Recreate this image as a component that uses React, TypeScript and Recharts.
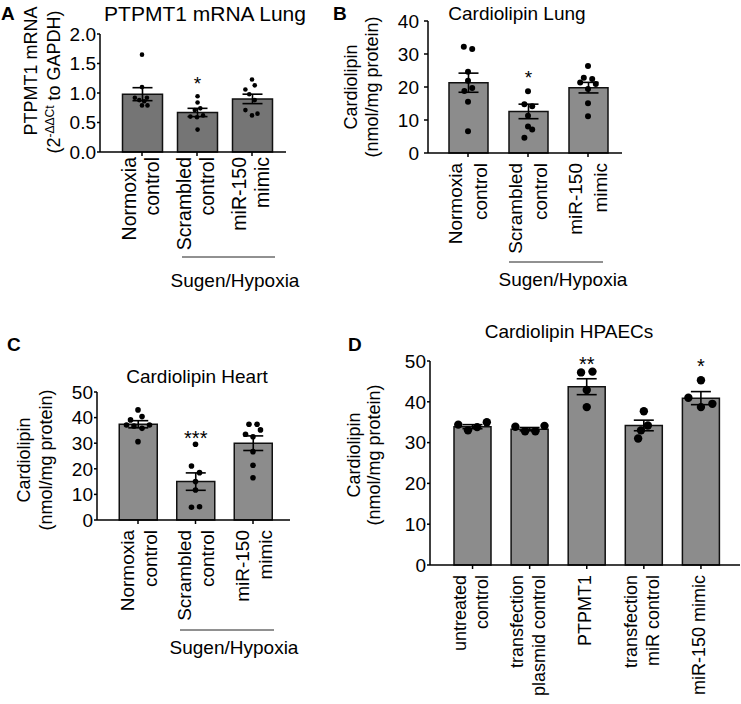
import React from 'react';
import { ComposedChart, Bar, Scatter, XAxis, YAxis, ErrorBar, LabelList } from 'recharts';

const FONT = '"Liberation Sans", Arial, Helvetica, sans-serif';

// A: PTPMT1 mRNA Lung
const mrnaGroups = ['Normoxia control', 'Scrambled control', 'miR-150 mimic'];
const mrnaMean = [0.98, 0.67, 0.9];
const mrnaSem = [0.11, 0.07, 0.08];
const mrnaSig = ['', '*', ''];
const mrnaSigAt = [0, 1.23, 0];
const mrnaDots = [
  [1.65, 1.1, 0.92, 0.92, 0.88, 0.86, 0.79, 0.79],
  [0.945, 0.84, 0.74, 0.71, 0.6, 0.59, 0.62, 0.38],
  [1.23, 1.13, 1.06, 0.98, 0.88, 0.71, 0.62, 0.65],
];
const mrnaJitter = [
  [0, 0, -0.13, 0.09, -0.05, 0.04, 0, 0.1],
  [0.01, 0.01, 0.06, -0.04, -0.12, 0, 0.11, 0.01],
  [0, 0.05, -0.12, -0.05, 0.05, -0.12, 0, 0.1],
];

// B: Cardiolipin Lung
const lungGroups = ['Normoxia control', 'Scrambled control', 'miR-150 mimic'];
const lungMean = [21.3, 12.6, 19.8];
const lungSem = [2.9, 2.2, 1.6];
const lungSig = ['', '*', ''];
const lungSigAt = [0, 24.3, 0];
const lungDots = [
  [32.2, 31.5, 24.6, 21.9, 18.8, 19.7, 15.5, 6.6],
  [18.7, 14.8, 14.2, 11.3, 8.0, 7.1, 4.6],
  [26.4, 22.8, 22.4, 21.4, 20.9, 19.4, 15.1, 11.1],
];
const lungJitter = [
  [-0.07, 0.07, 0, 0, -0.06, 0.07, 0, 0],
  [0, -0.06, 0.07, 0, 0, 0.07, -0.06],
  [0, -0.07, 0.07, -0.13, 0.13, 0, 0, 0],
];

// C: Cardiolipin Heart
const heartGroups = ['Normoxia control', 'Scrambled control', 'miR-150 mimic'];
const heartMean = [37.4, 15.0, 30.0];
const heartSem = [1.4, 3.4, 2.85];
const heartSig = ['', '***', ''];
const heartSigAt = [0, 33.9, 0];
const heartDots = [
  [43.0, 39.1, 40.4, 37.1, 36.7, 37.1, 35.8, 30.6],
  [29.6, 21.1, 18.5, 15.0, 11.7, 5.0, 5.2],
  [37.4, 37.4, 35.2, 33.5, 32.5, 26.7, 21.4, 16.5],
];
const heartJitter = [
  [0, -0.13, 0.07, -0.2, -0.07, 0.2, 0.07, 0],
  [0, -0.07, 0.07, 0, 0, -0.07, 0.07],
  [-0.07, 0.07, 0.13, -0.13, 0, 0, 0, 0],
];

// D: Cardiolipin HPAECs
const cellGroups = ['untreated control', 'transfection plasmid control', 'PTPMT1', 'transfection miR control', 'miR-150 mimic'];
const cellMean = [33.9, 33.3, 43.7, 34.2, 40.9];
const cellSem = [0.5, 0.4, 1.95, 1.3, 1.6];
const cellSig = ['', '', '**', '', '*'];
const cellSigAt = [0, 0, 50.5, 0, 49.8];
const cellDots = [
  [34.4, 33.0, 33.8, 35.0],
  [33.9, 32.8, 32.8, 34.1],
  [47.2, 47.4, 42.9, 38.7],
  [37.7, 34.2, 33.0, 31.0],
  [45.3, 41.0, 39.5, 38.7],
];
const cellJitter = [
  [-0.25, -0.08, 0.08, 0.25],
  [-0.25, -0.08, 0.1, 0.26],
  [-0.1, 0.1, 0, 0],
  [0, 0.07, -0.05, -0.1],
  [0, -0.22, 0.2, 0],
];

const threeLines: Record<string, string[]> = {
  'Normoxia control': ['Normoxia', 'control'],
  'Scrambled control': ['Scrambled', 'control'],
  'miR-150 mimic': ['miR-150', 'mimic'],
};
const cellLines: Record<string, string[]> = {
  'untreated control': ['untreated', 'control'],
  'transfection plasmid control': ['transfection', 'plasmid control'],
  PTPMT1: ['PTPMT1'],
  'transfection miR control': ['transfection', 'miR control'],
  'miR-150 mimic': ['miR-150 mimic'],
};

const buildRows = (groups: string[], mean: number[], sem: number[], sig: string[], sigAt: number[]) =>
  groups.map((g, i) => ({ group: g, mean: mean[i], sem: sem[i], sig: sig[i], sigAt: sigAt[i] }));

const buildDots = (dots: number[][], jitter: number[][]) =>
  dots.flatMap((vals, i) => vals.map((v, j) => ({ x: i + jitter[i][j], y: v })));

const CatTick = (props: any) => {
  const { x, y, payload, lines, shift, gap, size } = props;
  const ls: string[] = lines[payload.value] || [String(payload.value)];
  const n = ls.length;
  return (
    <g transform={`translate(${x},${y}) rotate(-90)`}>
      {ls.map((t, i) => (
        <text
          key={i}
          x={0}
          y={shift + (i - (n - 1) / 2) * gap}
          textAnchor="end"
          dominantBaseline="central"
          fontSize={size}
          fontFamily={FONT}
          fill="#000"
        >
          {t}
        </text>
      ))}
    </g>
  );
};

// star sits at sigAt (data units); scale taken from the drawn bar itself
const makeStar = (rows: any[], size: number) => (p: any) => {
  const row = rows[p.index];
  if (!row || !row.sig) return null;
  const vb = p.viewBox && p.viewBox.width !== undefined ? p.viewBox : p;
  const { x, y, width, height } = vb;
  const base = y + height;
  const cy = base - row.sigAt * (height / row.mean);
  return (
    <text x={x + width / 2} y={cy + size * 0.58} textAnchor="middle" fontSize={size} fontFamily={FONT} fill="#000">
      {row.sig}
    </text>
  );
};

interface PanelProps {
  left: number;
  top: number;
  width: number;
  height: number;
  marginTop: number;
  marginRight: number;
  yWidth: number;
  xHeight: number;
  pad: { left: number; right: number };
  yDomain: [number, number];
  yTicks: number[];
  yFmt: (v: number) => string;
  yTickSize: number;
  yTickMargin: number;
  tickFont: number;
  rows: any[];
  dots: { x: number; y: number }[];
  lines: Record<string, string[]>;
  catShift: number;
  catGap: number;
  catFont: number;
  catMargin: number;
  barSize: number;
  fill: string;
  dotR: number;
  starFont: number;
}

const Panel = (p: PanelProps) => {
  const axisStyle = { stroke: '#000', strokeWidth: 1.5 };
  return (
    <div style={{ position: 'absolute', left: p.left, top: p.top }}>
      <ComposedChart
        width={p.width}
        height={p.height}
        data={p.rows}
        margin={{ top: p.marginTop, right: p.marginRight, bottom: 0, left: 0 }}
      >
        <XAxis
          xAxisId="cat"
          dataKey="group"
          type="category"
          padding={p.pad}
          height={p.xHeight}
          interval={0}
          axisLine={axisStyle}
          tickLine={axisStyle}
          tickSize={4}
          tickMargin={p.catMargin}
          tick={(t: any) => (
            <CatTick {...t} lines={p.lines} shift={p.catShift} gap={p.catGap} size={p.catFont} />
          )}
        />
        <XAxis
          xAxisId="num"
          dataKey="x"
          type="number"
          domain={[-0.5, p.rows.length - 0.5]}
          padding={p.pad}
          hide
          height={0}
        />
        <YAxis
          type="number"
          domain={p.yDomain}
          ticks={p.yTicks}
          interval={0}
          width={p.yWidth}
          tickFormatter={p.yFmt}
          axisLine={axisStyle}
          tickLine={axisStyle}
          tickSize={p.yTickSize}
          tickMargin={p.yTickMargin}
          tick={{ fill: '#000', fontSize: p.tickFont, fontFamily: FONT }}
        />
        <Bar
          xAxisId="cat"
          dataKey="mean"
          fill={p.fill}
          stroke="#111"
          strokeWidth={1.5}
          barSize={p.barSize}
          isAnimationActive={false}
        >
          <ErrorBar dataKey="sem" width={10} stroke="#000" strokeWidth={1.6} isAnimationActive={false} />
          <LabelList dataKey="sig" content={makeStar(p.rows, p.starFont)} />
        </Bar>
        <Scatter
          xAxisId="num"
          data={p.dots}
          dataKey="y"
          isAnimationActive={false}
          shape={(s: any) => <circle cx={s.cx} cy={s.cy} r={p.dotR} fill="#000" />}
        />
      </ComposedChart>
    </div>
  );
};

const RotLabel = ({ cx, cy, size, children }: any) => (
  <text
    transform={`translate(${cx},${cy}) rotate(-90)`}
    y={size * 0.3}
    textAnchor="middle"
    fontSize={size}
    fontFamily={FONT}
    fill="#000"
  >
    {children}
  </text>
);

export default function App() {
  const fmt1 = (v: number) => v.toFixed(1);
  const fmt0 = (v: number) => String(v);
  return (
    <div style={{ position: 'absolute', left: 0, top: 0, width: 741, height: 704, background: '#fff', fontFamily: FONT }}>
      <Panel
        left={0}
        top={0}
        width={300}
        height={300}
        marginTop={34}
        marginRight={14}
        yWidth={100}
        xHeight={148}
        pad={{ left: 14.5, right: 6.5 }}
        yDomain={[0, 2]}
        yTicks={[0, 0.5, 1, 1.5, 2]}
        yFmt={fmt1}
        yTickSize={3}
        yTickMargin={1}
        tickFont={19}
        rows={buildRows(mrnaGroups, mrnaMean, mrnaSem, mrnaSig, mrnaSigAt)}
        dots={buildDots(mrnaDots, mrnaJitter)}
        lines={threeLines}
        catShift={-1.5}
        catGap={22.5}
        catFont={19.5}
        catMargin={1}
        barSize={40}
        fill="#757575"
        dotR={2.3}
        starFont={19}
      />
      <Panel
        left={330}
        top={0}
        width={300}
        height={300}
        marginTop={21}
        marginRight={8}
        yWidth={98}
        xHeight={147}
        pad={{ left: 10, right: 4 }}
        yDomain={[0, 40]}
        yTicks={[0, 10, 20, 30, 40]}
        yFmt={fmt0}
        yTickSize={4}
        yTickMargin={5}
        tickFont={19}
        rows={buildRows(lungGroups, lungMean, lungSem, lungSig, lungSigAt)}
        dots={buildDots(lungDots, lungJitter)}
        lines={threeLines}
        catShift={-0.5}
        catGap={25}
        catFont={19}
        catMargin={6}
        barSize={39}
        fill="#8c8c8c"
        dotR={3}
        starFont={19}
      />
      <Panel
        left={0}
        top={330}
        width={300}
        height={300}
        marginTop={62}
        marginRight={10}
        yWidth={97}
        xHeight={110}
        pad={{ left: 12.25, right: 8.25 }}
        yDomain={[0, 50]}
        yTicks={[0, 10, 20, 30, 40, 50]}
        yFmt={fmt0}
        yTickSize={3}
        yTickMargin={1}
        tickFont={19}
        rows={buildRows(heartGroups, heartMean, heartSem, heartSig, heartSigAt)}
        dots={buildDots(heartDots, heartJitter)}
        lines={threeLines}
        catShift={0.5}
        catGap={23}
        catFont={19}
        catMargin={6}
        barSize={38}
        fill="#8c8c8c"
        dotR={2.8}
        starFont={20}
      />
      <Panel
        left={330}
        top={330}
        width={411}
        height={374}
        marginTop={31}
        marginRight={1}
        yWidth={100}
        xHeight={139}
        pad={{ left: 14, right: 10.5 }}
        yDomain={[0, 50]}
        yTicks={[0, 10, 20, 30, 40, 50]}
        yFmt={fmt0}
        yTickSize={3}
        yTickMargin={1}
        tickFont={19}
        rows={buildRows(cellGroups, cellMean, cellSem, cellSig, cellSigAt)}
        dots={buildDots(cellDots, cellJitter)}
        lines={cellLines}
        catShift={-2}
        catGap={22}
        catFont={18}
        catMargin={6}
        barSize={37}
        fill="#8c8c8c"
        dotR={4.2}
        starFont={20}
      />
      <svg
        width={741}
        height={704}
        style={{ position: 'absolute', left: 0, top: 0, pointerEvents: 'none' }}
        fontFamily={FONT}
      >
        <g fontWeight="bold" fontSize={19} fill="#000">
          <text x={1} y={20}>A</text>
          <text x={333} y={20}>B</text>
          <text x={7} y={351}>C</text>
          <text x={348} y={351}>D</text>
        </g>
        <g fill="#000" textAnchor="middle">
          <text x={205} y={21} fontSize={21}>PTPMT1 mRNA Lung</text>
          <text x={517} y={20} fontSize={19}>Cardiolipin Lung</text>
          <text x={197} y={383} fontSize={19}>Cardiolipin Heart</text>
          <text x={569} y={338} fontSize={19}>Cardiolipin HPAECs</text>
        </g>
        <RotLabel cx={32} cy={71} size={18}>PTPMT1 mRNA</RotLabel>
        <RotLabel cx={55} cy={82} size={18}>
          (2
          <tspan dy={-6} fontSize={12}>-ΔΔCt</tspan>
          <tspan dy={6}> to GAPDH)</tspan>
        </RotLabel>
        <RotLabel cx={352} cy={87} size={18}>Cardiolipin</RotLabel>
        <RotLabel cx={373} cy={87} size={18}>(nmol/mg protein)</RotLabel>
        <RotLabel cx={25} cy={460} size={18}>Cardiolipin</RotLabel>
        <RotLabel cx={47} cy={460} size={18}>(nmol/mg protein)</RotLabel>
        <RotLabel cx={355} cy={455} size={18}>Cardiolipin</RotLabel>
        <RotLabel cx={375} cy={455} size={18}>(nmol/mg protein)</RotLabel>
        <g stroke="#222" strokeWidth={1}>
          <line x1={182} x2={275} y1={257} y2={257} />
          <line x1={509} x2={603} y1={262} y2={262} />
          <line x1={180} x2={274} y1={630} y2={630} />
        </g>
        <g fontSize={19} fill="#000" textAnchor="middle">
          <text x={235} y={287}>Sugen/Hypoxia</text>
          <text x={563} y={286}>Sugen/Hypoxia</text>
          <text x={234} y={654}>Sugen/Hypoxia</text>
        </g>
      </svg>
    </div>
  );
}
